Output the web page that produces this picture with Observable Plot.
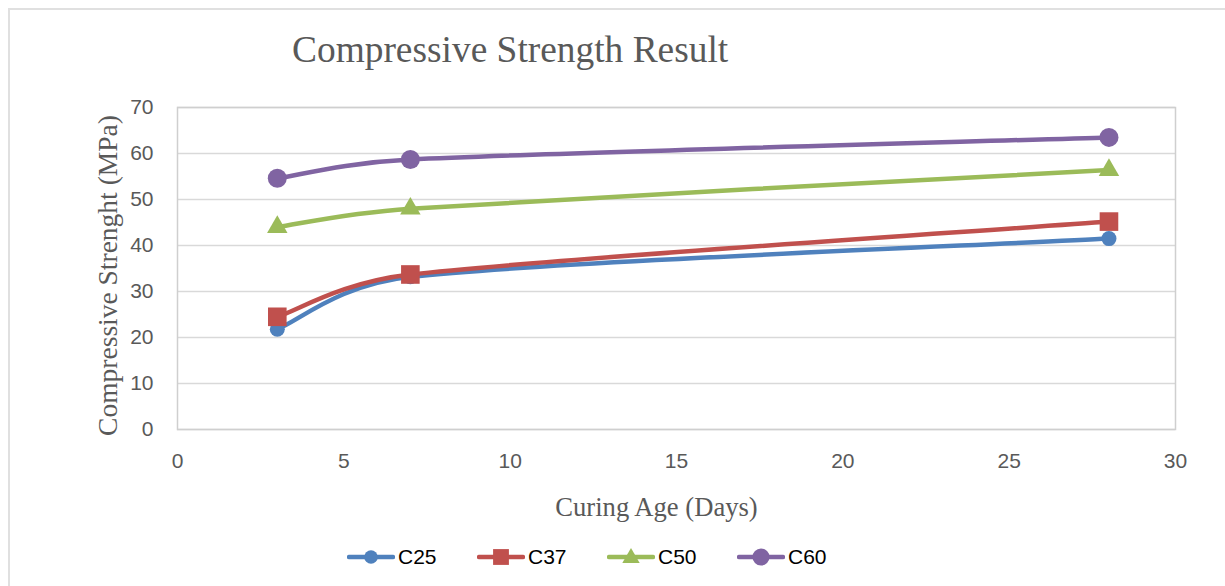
<!DOCTYPE html>
<html>
<head>
<meta charset="utf-8">
<script src="https://cdn.jsdelivr.net/npm/d3@7"></script>
<script src="https://cdn.jsdelivr.net/npm/@observablehq/plot@0.6"></script>
<style>
  html, body { margin: 0; padding: 0; background: #fff; }
  #chart { position: relative; width: 1225px; height: 586px; overflow: hidden; }
  #border { position: absolute; left: 8px; top: 8px; right: 0; bottom: 0; border-top: 2px solid #e0e0e0; border-left: 2px solid #e0e0e0; }
  #title { position: absolute; left: 292px; top: 31px; font: 37.4px "Liberation Serif", serif; color: #595959; line-height: 37px; white-space: nowrap; }
  #plot { position: absolute; left: 0; top: 0; }
  #legend { position: absolute; left: 347px; top: 545px; display: flex; font: 21px "Liberation Sans", sans-serif; color: #000; }
  #legend .item { width: 130px; display: flex; align-items: center; }
  #legend .item span { margin-left: 3px; }
  g[aria-label="y-axis label"] text { font-family: "Liberation Serif", serif; font-size: 27.5px; }
  g[aria-label="x-axis label"] text { font-family: "Liberation Serif", serif; font-size: 26.6px; }
</style>
</head>
<body>
<div id="chart">
  <div id="border"></div>
  <div id="title">Compressive Strength Result</div>
  <div id="plot"></div>
  <div id="legend"></div>
</div>
<script>
// Curing ages (days) and compressive strength (MPa) of each concrete grade
const days = [3, 7, 28];
const seriesNames = ["C25", "C37", "C50", "C60"];
const c25 = [21.8, 33.2, 41.5];
const c37 = [24.5, 33.7, 45.2];
const c50 = [44.0, 48.0, 56.4];
const c60 = [54.6, 58.7, 63.5];
const xTicks = [0, 5, 10, 15, 20, 25, 30];
const yTicks = [0, 10, 20, 30, 40, 50, 60, 70];

const values = [c25, c37, c50, c60];
const rows = seriesNames.flatMap((name, i) =>
  days.map((d, j) => ({series: name, day: d, strength: values[i][j]}))
);

// Per-series styling: colour, marker symbol and marker radius
const styles = {
  C25: {color: "#4F81BD", symbol: "circle", r: 7.5},
  C37: {color: "#C0504D", symbol: "square", r: 10.5},
  C50: {color: "#9BBB59", symbol: "triangle", r: 7.6},
  C60: {color: "#8064A2", symbol: "circle", r: 9.5}
};

// Smoothed line in the spreadsheet style: cubic Bézier segments whose control
// points follow the neighbouring points (tension 1/6), capped at half the
// segment length so short segments don't loop back.
function smoothCurve(context) {
  let pts;
  return {
    areaStart() {},
    areaEnd() {},
    lineStart() { pts = []; },
    point(x, y) { pts.push([+x, +y]); },
    lineEnd() {
      const n = pts.length;
      if (!n) return;
      context.moveTo(pts[0][0], pts[0][1]);
      for (let i = 0; i < n - 1; i++) {
        const p0 = pts[Math.max(i - 1, 0)], p1 = pts[i], p2 = pts[i + 1], p3 = pts[Math.min(i + 2, n - 1)];
        const d12 = Math.hypot(p2[0] - p1[0], p2[1] - p1[1]);
        const d02 = Math.hypot(p2[0] - p0[0], p2[1] - p0[1]);
        const d13 = Math.hypot(p3[0] - p1[0], p3[1] - p1[1]);
        let f1 = 1 / 6, f2 = 1 / 6;
        if (d02 * f1 > d12 / 2) f1 = d12 / 2 / d02;
        if (d13 * f2 > d12 / 2) f2 = d12 / 2 / d13;
        context.bezierCurveTo(
          p1[0] + f1 * (p2[0] - p0[0]), p1[1] + f1 * (p2[1] - p0[1]),
          p2[0] - f2 * (p3[0] - p1[0]), p2[1] - f2 * (p3[1] - p1[1]),
          p2[0], p2[1]
        );
      }
    }
  };
}

const marks = [
  Plot.gridY(yTicks, {stroke: "#d9d9d9", strokeOpacity: 1, strokeWidth: 1.5}),
  Plot.frame({stroke: "#cfcfcf", strokeWidth: 1.5}),
  Plot.axisX(xTicks, {tickSize: 0, tickPadding: 24, label: "Curing Age (Days)", labelAnchor: "center", labelArrow: "none", labelOffset: 89}),
  Plot.axisY(yTicks, {tickSize: 0, tickPadding: 24, label: "Compressive Strenght (MPa)", labelAnchor: "center", labelArrow: "none", labelOffset: 80})
];
for (const name of seriesNames) {
  const s = styles[name];
  const data = rows.filter(d => d.series === name);
  marks.push(Plot.line(data, {x: "day", y: "strength", stroke: s.color, strokeWidth: 4.5, curve: smoothCurve}));
}
for (const name of seriesNames) {
  const s = styles[name];
  const data = rows.filter(d => d.series === name);
  marks.push(Plot.dot(data, {x: "day", y: "strength", fill: s.color, stroke: "none", symbol: s.symbol, r: s.r}));
}

const chart = Plot.plot({
  width: 1225,
  height: 586,
  marginLeft: 177,
  marginRight: 50,
  marginTop: 107,
  marginBottom: 157,
  style: {fontSize: "21px", fontFamily: "Liberation Sans, sans-serif", color: "#595959", background: "transparent"},
  x: {domain: [0, 30]},
  y: {domain: [0, 70]},
  marks
});
document.getElementById("plot").appendChild(chart);

// Nudge the axis titles to their places beside the plot frame
function nudge(selector, dx, dy) {
  const g = d3.select(chart).select(selector);
  if (!g.empty()) g.attr("transform", `translate(${dx},${dy}) ${g.attr("transform") || ""}`);
}
nudge('g[aria-label="y-axis label"]', 0, 7);
nudge('g[aria-label="x-axis label"]', -20, -3);

// Legend: line swatch with the series marker, followed by the name
const legend = d3.select("#legend");
for (const name of seriesNames) {
  const s = styles[name];
  const item = legend.append("div").attr("class", "item");
  const svg = item.append("svg").attr("width", 48).attr("height", 24);
  svg.append("line").attr("x1", 2).attr("x2", 46).attr("y1", 12).attr("y2", 12)
    .attr("stroke", s.color).attr("stroke-width", 4.5).attr("stroke-linecap", "round");
  const sym = {circle: d3.symbolCircle, square: d3.symbolSquare, triangle: d3.symbolTriangle}[s.symbol];
  const r = s.symbol === "circle" ? s.r * 0.9 : s.r * 0.85;
  svg.append("path").attr("transform", `translate(24,${s.symbol === "triangle" ? 13 : 12})`)
    .attr("d", d3.symbol(sym, Math.PI * r * r)()).attr("fill", s.color);
  item.append("span").text(name);
}
</script>
</body>
</html>
